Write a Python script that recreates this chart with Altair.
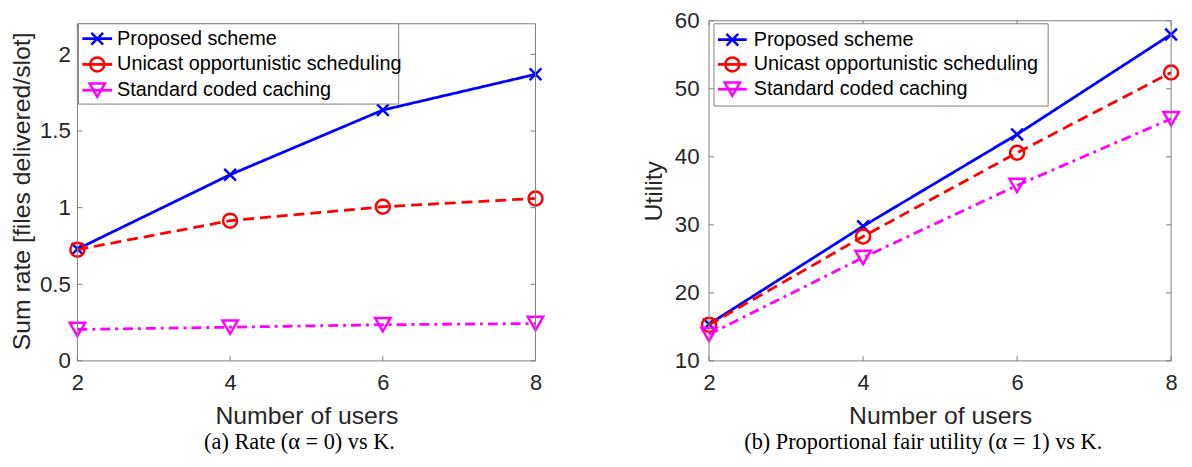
import altair as alt
import pandas as pd

# ---------------- data ----------------
users = [2, 4, 6, 8]
scheme_names = ["Proposed scheme", "Unicast opportunistic scheduling", "Standard coded caching"]

rate_proposed = [0.73, 1.215, 1.637, 1.87]
rate_unicast = [0.726, 0.915, 1.006, 1.06]
rate_standard = [0.205, 0.22, 0.236, 0.244]

util_proposed = [15.4, 29.8, 43.3, 58.0]
util_unicast = [15.3, 28.3, 40.6, 52.4]
util_standard = [13.9, 25.2, 35.8, 45.6]

x_tick_values = [2, 4, 6, 8]
rate_tick_values = [0, 0.5, 1, 1.5, 2]
util_tick_values = [10, 20, 30, 40, 50, 60]

rate_ylabel = "Sum rate [files delivered/slot]"
util_ylabel = "Utility"
xlabel = "Number of users"
caption_a = "(a) Rate (α = 0) vs K."
caption_b = "(b) Proportional fair utility (α = 1) vs K."

# ---------------- style ----------------
COLORS = ["#0000FF", "#FF0000", "#FF00FF"]
DASHES = [[1, 0], [11, 6], [10, 5, 3, 5]]
SHAPES = ["M-1,-1L1,1M-1,1L1,-1", "circle", "triangle-down"]
SIZES = [140, 200, 240]
FRAME = "#7f7f7f"
TEXT = "#262626"
SANS = "Liberation Sans"
SERIF = "Liberation Serif"
H = 343
one = pd.DataFrame({"k": [0]})


def make_panel(series, ydom, ytop, yticks, yfmt, W, ytitle, ylab_pad, y_extent,
               top_px, box, line_x, marker_x, text_x, row_y, caption, cap_x):
    xs = alt.Scale(domain=[2, 8], nice=False, zero=False)
    ys = alt.Scale(domain=ydom, nice=False, zero=False)
    xaxis = alt.Axis(values=x_tick_values, format="d", title=xlabel, domain=False,
                     ticks=False, tickSize=0, grid=False, labelFlush=False,
                     labelFont=SANS, labelFontSize=22, labelColor=TEXT, labelPadding=12,
                     titleFont=SANS, titleFontSize=25, titleFontWeight="normal",
                     titleColor=TEXT, titlePadding=10)
    yaxis = alt.Axis(values=yticks, format=yfmt, title=ytitle, domain=False,
                     ticks=False, tickSize=0, grid=False, labelFlush=False,
                     labelFont=SANS, labelFontSize=22.5, labelColor=TEXT,
                     labelPadding=ylab_pad, minExtent=y_extent, maxExtent=y_extent,
                     titleFont=SANS, titleFontSize=25, titleFontWeight="normal",
                     titleColor=TEXT, titlePadding=6)
    layers = []
    # data series (first line carries the axes; no layer disables them)
    for i, vals in enumerate(series):
        df = pd.DataFrame({"users": users, "value": vals})
        if i == 0:
            enc_line = dict(x=alt.X("users:Q", scale=xs, axis=xaxis),
                            y=alt.Y("value:Q", scale=ys, axis=yaxis))
        else:
            enc_line = dict(x=alt.X("users:Q", scale=xs), y=alt.Y("value:Q", scale=ys))
        enc = dict(x=alt.X("users:Q", scale=xs), y=alt.Y("value:Q", scale=ys))
        layers.append(alt.Chart(df).mark_line(color=COLORS[i], strokeWidth=2.8,
                                              strokeDash=DASHES[i]).encode(**enc_line))
        layers.append(alt.Chart(df).mark_point(shape=SHAPES[i], size=SIZES[i], filled=False,
                                               color=COLORS[i], strokeWidth=2.5,
                                               opacity=1).encode(**enc))
    # frame box
    layers.append(alt.Chart(one).mark_rect(fill=None, stroke=FRAME, strokeWidth=1).encode(
        x=alt.XDatum(2, type="quantitative", scale=xs),
        x2=alt.X2Datum(8),
        y=alt.YDatum(ydom[0], type="quantitative", scale=ys),
        y2=alt.Y2Datum(ytop)))
    # inward ticks on all four sides
    ytdf = pd.DataFrame({"v": yticks})
    xtdf = pd.DataFrame({"v": x_tick_values})
    for a, b in [(0, 5), (W - 5, W)]:
        layers.append(alt.Chart(ytdf).mark_rule(color=FRAME, strokeWidth=1).encode(
            y=alt.Y("v:Q", scale=ys), x=alt.value(a), x2=alt.value(b)))
    for a, b in [(H - 5, H), (top_px, top_px + 5)]:
        layers.append(alt.Chart(xtdf).mark_rule(color=FRAME, strokeWidth=1).encode(
            x=alt.X("v:Q", scale=xs), y=alt.value(a), y2=alt.value(b)))
    # legend
    layers.append(alt.Chart(one).mark_rect(fill="white", stroke=FRAME, strokeWidth=1).encode(
        x=alt.value(box[0]), x2=alt.value(box[1]), y=alt.value(box[2]), y2=alt.value(box[3])))
    for i, name in enumerate(scheme_names):
        layers.append(alt.Chart(one).mark_rule(color=COLORS[i], strokeWidth=2.8).encode(
            x=alt.value(line_x[0]), x2=alt.value(line_x[1]), y=alt.value(row_y[i])))
        layers.append(alt.Chart(one).mark_point(shape=SHAPES[i], size=SIZES[i], filled=False,
                                                color=COLORS[i], strokeWidth=2.5,
                                                opacity=1).encode(
            x=alt.value(marker_x), y=alt.value(row_y[i])))
        layers.append(alt.Chart(one).mark_text(align="left", baseline="middle", font=SANS,
                                               fontSize=20, color="black").encode(
            x=alt.value(text_x), y=alt.value(row_y[i]), text=alt.value(name)))
    # caption
    layers.append(alt.Chart(one).mark_text(align="center", baseline="alphabetic", font=SERIF,
                                           fontSize=22.5, color="black").encode(
        x=alt.value(cap_x), y=alt.value(H + 89), text=alt.value(caption)))
    return alt.layer(*layers).properties(width=W, height=H)


left_top = 2.2 + 3 * 2.2 / (H - 3)
left = make_panel([rate_proposed, rate_unicast, rate_standard], [0, left_top], 2.2,
                  rate_tick_values, "~g", 462, rate_ylabel, 7, 37, 3,
                  (1, 324, 3, 84), (5, 35), 20, 40, (18, 44, 70), caption_a, 224)
right = make_panel([util_proposed, util_unicast, util_standard], [10, 60], 60,
                   util_tick_values, "d", 466, util_ylabel, 10, 37, 0,
                   (5, 342, 3, 86), (9, 38), 23.5, 45, (19, 44, 69), caption_b, 216)

chart = alt.hconcat(left, right, spacing=175, bounds="flush").properties(
    padding={"left": 2, "top": 0, "right": 0, "bottom": 0}
).configure_view(stroke=None)

chart.save("out.html", embed_options={"renderer": "svg", "actions": False})
